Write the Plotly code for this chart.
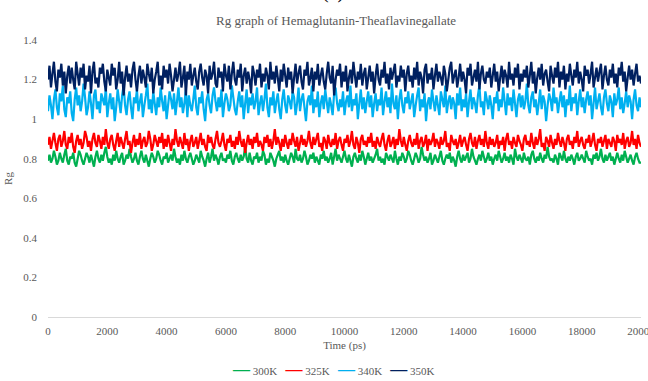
import plotly.graph_objects as go

# Radius of gyration (nm) sampled every 50 ps over a 20 ns run
rg_300k = [
    0.79, 0.82, 0.78, 0.80, 0.84, 0.81, 0.77, 0.79, 0.83, 0.80, 0.78, 0.82, 0.85, 0.79, 0.77, 0.81, 0.80, 0.83, 0.78, 0.76,
    0.80, 0.84, 0.82, 0.79, 0.77, 0.80, 0.83, 0.81, 0.78, 0.82, 0.79, 0.76, 0.81, 0.84, 0.80, 0.78, 0.82, 0.79, 0.83, 0.86,
    0.81, 0.78, 0.80, 0.77, 0.82, 0.79, 0.84, 0.80, 0.78, 0.81, 0.83, 0.77, 0.79, 0.82, 0.80, 0.85, 0.81, 0.78, 0.80, 0.83,
    0.79, 0.77, 0.81, 0.84, 0.80, 0.78, 0.82, 0.79, 0.76, 0.80, 0.83, 0.81, 0.78, 0.80, 0.84, 0.82, 0.79, 0.77, 0.81, 0.80,
    0.83, 0.78, 0.80, 0.82, 0.79, 0.85, 0.81, 0.78, 0.80, 0.77, 0.82, 0.79, 0.84, 0.80, 0.78, 0.81, 0.83, 0.80, 0.77, 0.79,
    0.82, 0.80, 0.78, 0.84, 0.81, 0.79, 0.76, 0.80, 0.83, 0.78, 0.81, 0.85, 0.79, 0.82, 0.80, 0.77, 0.81, 0.83, 0.79, 0.80,
    0.78, 0.82, 0.80, 0.84, 0.79, 0.77, 0.81, 0.83, 0.80, 0.78, 0.82, 0.79, 0.81, 0.86, 0.80, 0.78, 0.83, 0.79, 0.77, 0.81,
    0.80, 0.83, 0.78, 0.81, 0.79, 0.84, 0.82, 0.77, 0.80, 0.78, 0.83, 0.81, 0.79, 0.76, 0.80, 0.82, 0.84, 0.79, 0.81, 0.78,
    0.82, 0.79, 0.77, 0.80, 0.83, 0.81, 0.78, 0.85, 0.80, 0.79, 0.82, 0.78, 0.80, 0.84, 0.81, 0.77, 0.79, 0.82, 0.80, 0.83,
    0.78, 0.81, 0.79, 0.77, 0.82, 0.80, 0.84, 0.79, 0.81, 0.78, 0.80, 0.83, 0.77, 0.81, 0.85, 0.79, 0.82, 0.80, 0.78, 0.81,
    0.84, 0.80, 0.78, 0.82, 0.79, 0.76, 0.81, 0.83, 0.80, 0.78, 0.82, 0.79, 0.84, 0.81, 0.77, 0.80, 0.83, 0.79, 0.81, 0.78,
    0.80, 0.82, 0.85, 0.79, 0.81, 0.78, 0.80, 0.77, 0.83, 0.81, 0.79, 0.82, 0.80, 0.78, 0.84, 0.80, 0.77, 0.81, 0.79, 0.83,
    0.81, 0.78, 0.80, 0.84, 0.82, 0.79, 0.77, 0.80, 0.83, 0.81, 0.78, 0.80, 0.86, 0.82, 0.79, 0.81, 0.78, 0.80, 0.83, 0.77,
    0.79, 0.82, 0.80, 0.78, 0.81, 0.84, 0.79, 0.77, 0.80, 0.82, 0.80, 0.83, 0.78, 0.81, 0.79, 0.76, 0.81, 0.84, 0.80, 0.78,
    0.82, 0.79, 0.81, 0.83, 0.78, 0.80, 0.85, 0.81, 0.79, 0.77, 0.80, 0.82, 0.79, 0.84, 0.81, 0.78, 0.80, 0.83, 0.79, 0.81,
    0.77, 0.80, 0.82, 0.79, 0.84, 0.81, 0.78, 0.80, 0.83, 0.79, 0.81, 0.78, 0.82, 0.80, 0.77, 0.85, 0.81, 0.79, 0.82, 0.80,
    0.78, 0.83, 0.80, 0.79, 0.81, 0.77, 0.82, 0.84, 0.80, 0.78, 0.81, 0.79, 0.83, 0.80, 0.78, 0.82, 0.80, 0.86, 0.81, 0.79,
    0.80, 0.78, 0.82, 0.80, 0.77, 0.83, 0.81, 0.79, 0.84, 0.80, 0.78, 0.81, 0.79, 0.82, 0.80, 0.77, 0.81, 0.83, 0.79, 0.80,
    0.82, 0.80, 0.78, 0.84, 0.81, 0.79, 0.80, 0.77, 0.82, 0.80, 0.83, 0.79, 0.81, 0.85, 0.80, 0.78, 0.82, 0.79, 0.81, 0.83,
    0.79, 0.81, 0.77, 0.80, 0.83, 0.80, 0.78, 0.82, 0.79, 0.84, 0.81, 0.78, 0.80, 0.82, 0.79, 0.77, 0.81, 0.83, 0.80, 0.78,
    0.78,
]

rg_325k = [
    0.87, 0.91, 0.85, 0.89, 0.93, 0.88, 0.84, 0.90, 0.92, 0.86, 0.89, 0.94, 0.87, 0.85, 0.91, 0.88, 0.93, 0.86, 0.83, 0.89,
    0.92, 0.87, 0.90, 0.85, 0.88, 0.94, 0.91, 0.86, 0.89, 0.84, 0.90, 0.93, 0.88, 0.86, 0.92, 0.89, 0.85, 0.91, 0.87, 0.95,
    0.88, 0.85, 0.90, 0.92, 0.87, 0.84, 0.89, 0.93, 0.86, 0.91, 0.88, 0.85, 0.90, 0.94, 0.87, 0.89, 0.83, 0.88, 0.92, 0.86,
    0.90, 0.87, 0.93, 0.85, 0.89, 0.91, 0.86, 0.88, 0.94, 0.90, 0.84, 0.87, 0.92, 0.89, 0.86, 0.91, 0.88, 0.93, 0.85, 0.90,
    0.86, 0.92, 0.88, 0.84, 0.90, 0.87, 0.95, 0.89, 0.86, 0.91, 0.88, 0.85, 0.93, 0.87, 0.90, 0.84, 0.89, 0.92, 0.86, 0.88,
    0.91, 0.85, 0.89, 0.93, 0.87, 0.90, 0.86, 0.84, 0.92, 0.88, 0.91, 0.87, 0.85, 0.90, 0.94, 0.88, 0.86, 0.89, 0.93, 0.87,
    0.84, 0.90, 0.88, 0.92, 0.86, 0.89, 0.85, 0.91, 0.87, 0.94, 0.89, 0.86, 0.90, 0.83, 0.88, 0.92, 0.87, 0.90, 0.85, 0.91,
    0.88, 0.93, 0.86, 0.89, 0.87, 0.84, 0.91, 0.88, 0.92, 0.86, 0.90, 0.85, 0.89, 0.95, 0.87, 0.91, 0.88, 0.84, 0.90, 0.86,
    0.92, 0.88, 0.85, 0.90, 0.87, 0.93, 0.89, 0.86, 0.91, 0.84, 0.88, 0.92, 0.87, 0.90, 0.86, 0.89, 0.94, 0.88, 0.85, 0.91,
    0.87, 0.90, 0.93, 0.86, 0.88, 0.84, 0.91, 0.89, 0.85, 0.92, 0.88, 0.86, 0.90, 0.87, 0.93, 0.85, 0.89, 0.91, 0.87, 0.84,
    0.90, 0.88, 0.92, 0.86, 0.89, 0.94, 0.87, 0.85, 0.91, 0.88, 0.83, 0.90, 0.92, 0.87, 0.89, 0.86, 0.91, 0.88, 0.93, 0.86,
    0.89, 0.85, 0.91, 0.88, 0.86, 0.90, 0.93, 0.87, 0.84, 0.89, 0.92, 0.86, 0.88, 0.91, 0.85, 0.90, 0.87, 0.95, 0.89, 0.86,
    0.91, 0.87, 0.84, 0.89, 0.92, 0.88, 0.86, 0.90, 0.87, 0.93, 0.85, 0.89, 0.91, 0.86, 0.88, 0.92, 0.84, 0.90, 0.87, 0.89,
    0.93, 0.86, 0.90, 0.88, 0.85, 0.91, 0.87, 0.89, 0.94, 0.86, 0.88, 0.84, 0.92, 0.89, 0.87, 0.90, 0.85, 0.88, 0.92, 0.86,
    0.89, 0.91, 0.87, 0.84, 0.90, 0.93, 0.88, 0.86, 0.91, 0.85, 0.89, 0.92, 0.87, 0.90, 0.86, 0.94, 0.88, 0.85, 0.91, 0.87,
    0.90, 0.86, 0.88, 0.92, 0.85, 0.89, 0.87, 0.91, 0.84, 0.90, 0.93, 0.87, 0.89, 0.85, 0.91, 0.88, 0.86, 0.92, 0.89, 0.87,
    0.84, 0.90, 0.92, 0.87, 0.89, 0.86, 0.93, 0.88, 0.85, 0.91, 0.87, 0.90, 0.95, 0.86, 0.88, 0.84, 0.91, 0.89, 0.86, 0.92,
    0.88, 0.85, 0.90, 0.87, 0.93, 0.89, 0.86, 0.91, 0.88, 0.84, 0.90, 0.92, 0.87, 0.89, 0.85, 0.91, 0.88, 0.94, 0.86, 0.89,
    0.91, 0.87, 0.85, 0.90, 0.88, 0.92, 0.86, 0.89, 0.93, 0.87, 0.84, 0.90, 0.88, 0.91, 0.86, 0.89, 0.92, 0.85, 0.90, 0.88,
    0.86, 0.91, 0.89, 0.84, 0.92, 0.88, 0.90, 0.87, 0.93, 0.85, 0.89, 0.91, 0.86, 0.88, 0.94, 0.87, 0.90, 0.85, 0.92, 0.88,
    0.86,
]

rg_340k = [
    1.04, 1.12, 1.07, 1.00, 1.10, 1.15, 1.06, 1.02, 1.13, 1.09, 1.17, 1.05, 1.01, 1.11, 1.08, 1.14, 1.03, 0.99, 1.10, 1.16,
    1.07, 1.12, 1.04, 1.09, 1.18, 1.11, 1.02, 1.06, 1.14, 1.08, 1.00, 1.12, 1.15, 1.05, 1.09, 1.03, 1.13, 1.10, 1.07, 1.16,
    1.01, 1.08, 1.13, 1.05, 1.11, 0.99, 1.06, 1.15, 1.09, 1.03, 1.12, 1.17, 1.07, 1.02, 1.10, 1.14, 1.06, 1.00, 1.11, 1.08,
    1.15, 1.04, 1.09, 1.13, 1.01, 1.07, 1.12, 1.18, 1.05, 1.10, 1.03, 1.14, 1.08, 1.02, 1.11, 1.06, 1.16, 1.09, 1.04, 1.12,
    1.00, 1.07, 1.14, 1.10, 1.05, 1.13, 1.02, 1.09, 1.16, 1.06, 1.11, 1.03, 1.08, 1.15, 1.01, 1.12, 1.07, 1.04, 1.10, 1.17,
    1.06, 1.02, 1.11, 1.08, 1.14, 1.05, 0.99, 1.10, 1.13, 1.07, 1.03, 1.12, 1.16, 1.09, 1.04, 1.11, 1.06, 1.15, 1.01, 1.08,
    1.13, 1.10, 1.04, 1.07, 1.17, 1.11, 1.05, 1.02, 1.09, 1.14, 1.06, 1.12, 1.00, 1.08, 1.15, 1.03, 1.11, 1.07, 1.13, 1.05,
    1.09, 1.16, 1.02, 1.08, 1.12, 1.04, 1.10, 1.18, 1.06, 1.01, 1.11, 1.07, 1.14, 1.03, 1.09, 1.13, 1.05, 1.00, 1.10, 1.15,
    1.07, 1.03, 1.12, 1.09, 1.05, 1.14, 1.11, 1.02, 1.08, 1.16, 1.04, 1.10, 1.13, 1.06, 0.99, 1.09, 1.12, 1.07, 1.17, 1.03,
    1.10, 1.06, 1.14, 1.01, 1.08, 1.12, 1.05, 1.15, 1.09, 1.03, 1.11, 1.07, 1.02, 1.13, 1.16, 1.08, 1.04, 1.10, 1.06, 1.14,
    1.02, 1.09, 1.12, 1.06, 1.17, 1.04, 1.10, 1.07, 1.13, 1.00, 1.08, 1.15, 1.05, 1.11, 1.03, 1.09, 1.14, 1.06, 1.12, 1.01,
    1.08, 1.13, 1.04, 1.10, 1.07, 1.16, 1.02, 1.09, 1.14, 1.06, 1.11, 1.03, 1.18, 1.08, 1.05, 1.12, 1.00, 1.10, 1.15, 1.07,
    1.03, 1.11, 1.08, 1.14, 1.05, 1.09, 1.13, 1.01, 1.07, 1.12, 1.16, 1.04, 1.10, 1.06, 1.13, 0.99, 1.08, 1.11, 1.05, 1.15,
    1.09, 1.04, 1.12, 1.07, 1.02, 1.14, 1.10, 1.06, 1.17, 1.03, 1.09, 1.12, 1.05, 1.11, 1.08, 1.00, 1.13, 1.07, 1.16, 1.04,
    1.10, 1.06, 1.13, 1.01, 1.09, 1.15, 1.05, 1.11, 1.08, 1.03, 1.12, 1.17, 1.06, 1.09, 1.02, 1.14, 1.10, 1.05, 1.12, 1.07,
    1.00, 1.11, 1.08, 1.14, 1.04, 1.10, 1.06, 1.16, 1.09, 1.02, 1.13, 1.07, 1.11, 1.04, 1.15, 1.08, 1.01, 1.10, 1.13, 1.06,
    1.12, 1.05, 1.09, 1.18, 1.07, 1.03, 1.11, 1.14, 1.06, 1.10, 1.02, 1.08, 1.15, 1.05, 1.12, 1.09, 0.99, 1.07, 1.13, 1.10,
    1.04, 1.16, 1.08, 1.11, 1.03, 1.09, 1.14, 1.06, 1.12, 1.01, 1.10, 1.07, 1.17, 1.04, 1.11, 1.08, 1.13, 1.02, 1.09, 1.15,
    1.06, 1.11, 1.03, 1.10, 1.14, 1.07, 1.12, 1.00, 1.08, 1.16, 1.05, 1.09, 1.13, 1.06, 1.02, 1.11, 1.15, 1.08, 1.04, 1.12,
    1.09, 1.01, 1.13, 1.07, 1.10, 1.16, 1.05, 1.11, 1.03, 1.08, 1.14, 1.06, 1.12, 1.09, 1.00, 1.10, 1.15, 1.07, 1.04, 1.11,
    1.06,
]

rg_350k = [
    1.20, 1.27, 1.16, 1.23, 1.29, 1.19, 1.14, 1.25, 1.21, 1.28, 1.17, 1.24, 1.13, 1.22, 1.27, 1.18, 1.26, 1.20, 1.15, 1.29,
    1.23, 1.17, 1.26, 1.21, 1.28, 1.15, 1.22, 1.19, 1.27, 1.13, 1.24, 1.29, 1.18, 1.21, 1.16, 1.26, 1.23, 1.28, 1.19, 1.14,
    1.25, 1.21, 1.17, 1.28, 1.22, 1.26, 1.15, 1.20, 1.29, 1.18, 1.24, 1.12, 1.21, 1.27, 1.19, 1.23, 1.16, 1.25, 1.29, 1.20,
    1.14, 1.22, 1.27, 1.18, 1.25, 1.21, 1.16, 1.28, 1.23, 1.19, 1.26, 1.13, 1.20, 1.24, 1.29, 1.17, 1.22, 1.15, 1.27, 1.21,
    1.25, 1.18, 1.28, 1.22, 1.14, 1.20, 1.26, 1.19, 1.23, 1.29, 1.16, 1.21, 1.27, 1.12, 1.24, 1.20, 1.28, 1.17, 1.22, 1.26,
    1.19, 1.15, 1.24, 1.28, 1.21, 1.17, 1.25, 1.22, 1.13, 1.27, 1.20, 1.23, 1.29, 1.18, 1.16, 1.26, 1.21, 1.24, 1.14, 1.28,
    1.22, 1.19, 1.27, 1.15, 1.23, 1.29, 1.20, 1.17, 1.25, 1.21, 1.28, 1.14, 1.22, 1.26, 1.18, 1.24, 1.20, 1.13, 1.27, 1.23,
    1.17, 1.25, 1.21, 1.28, 1.16, 1.23, 1.19, 1.26, 1.22, 1.15, 1.29, 1.20, 1.24, 1.18, 1.27, 1.21, 1.14, 1.25, 1.19, 1.28,
    1.22, 1.16, 1.26, 1.20, 1.24, 1.13, 1.21, 1.28, 1.18, 1.23, 1.27, 1.19, 1.15, 1.25, 1.22, 1.29, 1.17, 1.21, 1.26, 1.14,
    1.24, 1.20, 1.28, 1.17, 1.22, 1.26, 1.19, 1.15, 1.23, 1.29, 1.21, 1.18, 1.27, 1.12, 1.20, 1.25, 1.22, 1.28, 1.16, 1.24,
    1.19, 1.27, 1.14, 1.21, 1.25, 1.18, 1.29, 1.22, 1.16, 1.24, 1.20, 1.28, 1.17, 1.23, 1.26, 1.15, 1.21, 1.27, 1.19, 1.24,
    1.13, 1.22, 1.28, 1.20, 1.17, 1.25, 1.21, 1.29, 1.18, 1.23, 1.15, 1.26, 1.20, 1.24, 1.28, 1.16, 1.22, 1.19, 1.27, 1.21,
    1.25, 1.14, 1.23, 1.27, 1.19, 1.22, 1.16, 1.26, 1.20, 1.29, 1.17, 1.24, 1.21, 1.13, 1.25, 1.28, 1.18, 1.23, 1.20, 1.26,
    1.15, 1.22, 1.28, 1.19, 1.24, 1.21, 1.17, 1.27, 1.23, 1.14, 1.20, 1.26, 1.29, 1.18, 1.22, 1.25, 1.16, 1.21, 1.28, 1.19,
    1.24, 1.20, 1.13, 1.26, 1.22, 1.28, 1.17, 1.21, 1.25, 1.19, 1.29, 1.15, 1.23, 1.27, 1.20, 1.18, 1.24, 1.21, 1.26, 1.16,
    1.22, 1.28, 1.19, 1.24, 1.14, 1.21, 1.27, 1.18, 1.25, 1.22, 1.16, 1.29, 1.20, 1.23, 1.17, 1.26, 1.21, 1.28, 1.15, 1.23,
    1.19, 1.25, 1.21, 1.27, 1.16, 1.22, 1.29, 1.18, 1.24, 1.13, 1.21, 1.26, 1.20, 1.28, 1.17, 1.23, 1.25, 1.19, 1.14, 1.27,
    1.22, 1.18, 1.26, 1.21, 1.29, 1.16, 1.24, 1.20, 1.27, 1.15, 1.23, 1.19, 1.28, 1.22, 1.17, 1.25, 1.21, 1.29, 1.18, 1.24,
    1.20, 1.14, 1.27, 1.22, 1.25, 1.18, 1.23, 1.29, 1.16, 1.21, 1.26, 1.19, 1.24, 1.28, 1.15, 1.22, 1.27, 1.20, 1.17, 1.25,
    1.21, 1.28, 1.18, 1.23, 1.16, 1.26, 1.22, 1.29, 1.19, 1.24, 1.14, 1.21, 1.27, 1.20, 1.25, 1.17, 1.23, 1.28, 1.19, 1.22,
    1.18,
]

series_names = ["300K", "325K", "340K", "350K"]
series_values = [rg_300k, rg_325k, rg_340k, rg_350k]
series_colors = ["#00b050", "#ff0000", "#00b0f0", "#002060"]

STEP_PS = 50
FONT = "Liberation Serif, Times New Roman, serif"
GREY = "#595959"

fig = go.Figure()
for name, values, color in zip(series_names, series_values, series_colors):
    time_ps = [i * STEP_PS for i in range(len(values))]
    fig.add_trace(go.Scatter(
        x=time_ps, y=values, name=name, mode="lines",
        line=dict(color=color, width=2.2, simplify=False),
        showlegend=False,
    ))

# Compact legend row: a coloured dash followed by each series name
legend_text = "&nbsp;&nbsp;&nbsp;".join(
    f"<span style='color:{c};font-size:17px'><b>—</b></span> {n}"
    for n, c in zip(series_names, series_colors)
)

fig.update_layout(
    width=648, height=381,
    margin=dict(l=48, r=7, t=40, b=64, autoexpand=False),
    paper_bgcolor="white", plot_bgcolor="white",
    font=dict(family=FONT, size=11, color=GREY),
    showlegend=False,
    xaxis=dict(range=[0, 20000], dtick=2000, tick0=0, tickformat="d",
               showgrid=False, zeroline=False, showline=True,
               linecolor="#d9d9d9", linewidth=1, ticks="",
               ticklabeloverflow="allow", ticklabelstandoff=4,
               tickfont=dict(size=11, color=GREY),
               title=dict(text="Time (ps)", font=dict(size=11, color=GREY),
                          standoff=5)),
    yaxis=dict(range=[0, 1.4], dtick=0.2, tick0=0, showgrid=False,
               zeroline=False, showline=False, ticks="",
               ticklabelstandoff=10,
               tickfont=dict(size=11, color=GREY),
               title=dict(text="Rg", font=dict(size=11, color=GREY),
                          standoff=8)),
    annotations=[
        dict(text="Rg graph of Hemaglutanin-Theaflavinegallate",
             xref="paper", yref="paper", x=0.485, y=1.07,
             xanchor="center", yanchor="middle", showarrow=False,
             font=dict(family=FONT, size=13, color=GREY)),
        dict(text="(a)", xref="paper", yref="paper", x=0.48, y=1.125,
             xanchor="center", yanchor="bottom", showarrow=False,
             font=dict(family=FONT, size=20, color="#000000")),
        dict(text=legend_text, xref="paper", yref="paper", x=0.482, y=-0.188,
             xanchor="center", yanchor="middle", showarrow=False,
             font=dict(family=FONT, size=11, color=GREY)),
    ],
)

fig.write_html("out.html")
